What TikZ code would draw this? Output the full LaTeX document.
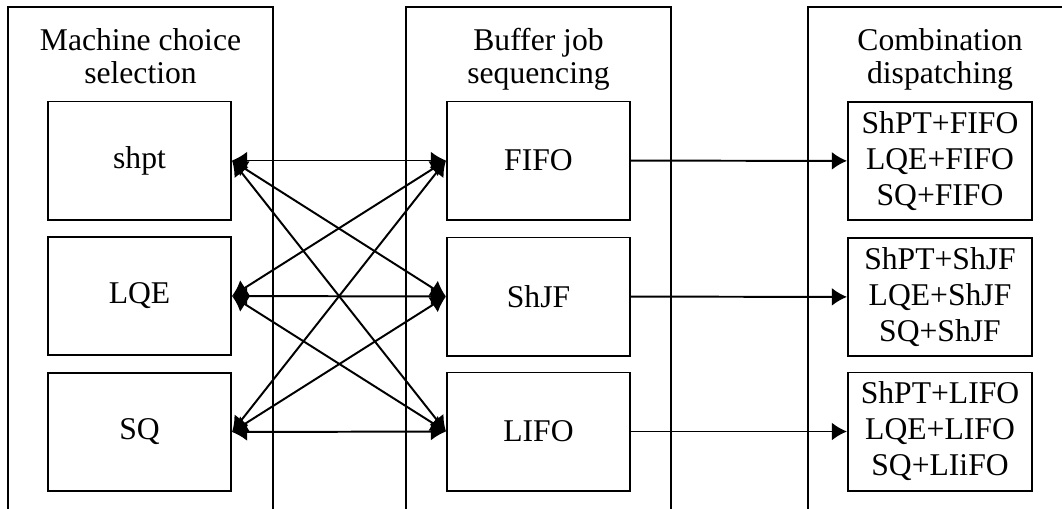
\documentclass[tikz,border=0pt]{standalone}
\usepackage{fontspec}
\setmainfont{Liberation Serif}
\usetikzlibrary{arrows.meta}
\tikzstyle{pnl}=[draw=black,line width=1.4pt]
\tikzstyle{ttl}=[align=center,inner sep=0pt,font=\fontsize{22.5}{23.5}\selectfont]
\tikzstyle{bx}=[rectangle,draw=black,line width=1.4pt,minimum width=4.575cm,minimum height=2.95cm,inner sep=0pt,font=\fontsize{22.5}{25.6}\selectfont]
\tikzstyle{cbx}=[bx,align=center,minimum width=4.6cm]
\tikzstyle{ar}=[line width=1.4pt,-{Latex[length=0.38cm,width=0.45cm]}]
\tikzstyle{biar}=[line width=1.4pt,{Latex[length=0.38cm,width=0.45cm]}-{Latex[length=0.38cm,width=0.45cm]}]

\begin{document}
\begin{tikzpicture}[x=0.025cm,y=-0.025cm]
\useasboundingbox (0,0) rectangle (1062,508);
% panels
\draw[pnl] (8,520) |- (273,7) -- (273,520);
\draw[pnl] (406,520) |- (671,7) -- (671,520);
\draw[pnl] (808,520) |- (1070,7);
\node[ttl] (tmc) at (140.5,60) {\strut Machine choice\\\strut selection};
\node[ttl] (tbj) at (538.5,60) {\strut Buffer job\\\strut sequencing};
\node[ttl] (tcd) at (940,60) {\strut Combination\\\strut dispatching};
% machine rules
\node[bx] (shpt) at (139.5,160.5) {shpt};
\node[bx] (lqe) at (139.5,296) {LQE};
\node[bx] (sq) at (139.5,432) {SQ};
% buffer rules
\node[bx] (fifo) at (538.5,160.5) {FIFO};
\node[bx] (shjf) at (538.5,296.5) {ShJF};
\node[bx] (lifo) at (538.5,431.5) {LIFO};
% combinations
\node[cbx] (cfifo) at (940,161) {ShPT+FIFO\\LQE+FIFO\\SQ+FIFO};
\node[cbx] (cshjf) at (940,297) {ShPT+ShJF\\LQE+ShJF\\SQ+ShJF};
\node[cbx] (clifo) at (940,431.5) {ShPT+LIFO\\LQE+LIFO\\SQ+LIiFO};
% links
\foreach \m in {shpt,lqe,sq}
  \foreach \b in {fifo,shjf,lifo}
    \draw[biar] (\m.east) -- (\b.west);
\draw[ar] (fifo) -- (cfifo);
\draw[ar] (shjf) -- (cshjf);
\draw[ar] (lifo) -- (clifo);
\end{tikzpicture}
\end{document}
